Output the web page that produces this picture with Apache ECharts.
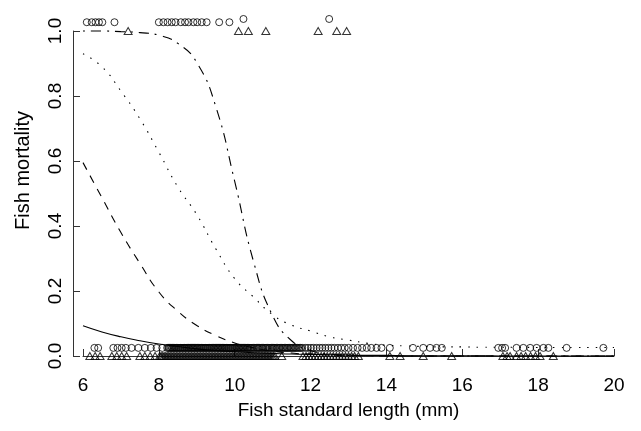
<!DOCTYPE html>
<html>
<head>
<meta charset="utf-8">
<script src="https://cdn.jsdelivr.net/npm/echarts@6/dist/echarts.min.js"></script>
<style>
html, body { margin: 0; padding: 0; background: #fff; }
#chart { width: 641px; height: 431px; }
</style>
</head>
<body>
<div id="chart"></div>
<script>
// fitted curves, read at every 0.5 mm
var lenX = [6, 6.5, 7, 7.5, 8, 8.5, 9, 9.5, 10, 10.5, 11, 11.5, 12, 12.5, 13, 13.5,
	14, 14.5, 15, 15.5, 16, 16.5, 17, 17.5, 18, 18.5, 19, 19.5, 20];
var solidP = [0.093, 0.074, 0.059, 0.047, 0.037, 0.029, 0.022, 0.017, 0.013, 0.010, 0.008, 0.006, 0.005, 0.004, 0.003, 0.002,
	0.002, 0.001, 0.001, 0.001, 0.001, 0.001, 0, 0, 0, 0, 0, 0, 0];
var dashedP = [0.595, 0.487, 0.38, 0.285, 0.197, 0.138, 0.094, 0.063, 0.040, 0.025, 0.015, 0.009, 0.005, 0.003, 0.002, 0.001,
	0.001, 0, 0, 0, 0, 0, 0, 0, 0, 0, 0, 0, 0];
var dottedP = [0.93, 0.89, 0.815, 0.73, 0.627, 0.52, 0.435, 0.33, 0.238, 0.181, 0.127, 0.095, 0.077, 0.059, 0.049, 0.039,
	0.033, 0.031, 0.029, 0.028, 0.028, 0.027, 0.027, 0.027, 0.026, 0.026, 0.026, 0.026, 0.026];
var dotdashP = [1.0, 1.0, 0.998, 0.995, 0.987, 0.962, 0.903, 0.768, 0.537, 0.289, 0.124, 0.047, 0.017, 0.006, 0.002, 0.001,
	0, 0, 0, 0, 0, 0, 0, 0, 0, 0, 0, 0, 0];

// observed fish (circles / triangles), dead at top, alive at bottom
var topCircleX = [6.10, 6.23, 6.33, 6.42, 6.51, 6.83, 8.00, 8.12, 8.23, 8.34, 8.44, 8.58, 8.69, 8.78, 8.91, 9.01,
	9.13, 9.26, 9.59, 9.86];
var topCircleHighX = [10.23, 12.49];
var topTriX = [7.19, 10.10, 10.36, 10.82, 12.20, 12.69, 12.95];
var botCircleX = [6.30, 6.40, 6.80, 6.91, 7.02, 7.13, 7.28, 7.46, 7.63, 7.79, 7.94, 8.09,
	8.22, 8.25, 8.28, 8.31, 8.34, 8.36, 8.39, 8.42, 8.45, 8.47, 8.50, 8.53, 8.56, 8.58, 8.61, 8.64,
	8.67, 8.69, 8.72, 8.75, 8.78, 8.80, 8.83, 8.86, 8.89, 8.91, 8.94, 8.97, 9.00, 9.02, 9.05, 9.08,
	9.11, 9.13, 9.16, 9.19, 9.22, 9.24, 9.27, 9.30, 9.33, 9.35, 9.38, 9.41, 9.44, 9.46, 9.49, 9.52,
	9.55, 9.57, 9.60, 9.63, 9.66, 9.68, 9.71, 9.74, 9.77, 9.79, 9.82, 9.85, 9.88, 9.90, 9.93, 9.96,
	9.99, 10.01, 10.04, 10.07, 10.10, 10.12, 10.15, 10.18, 10.21, 10.23, 10.26, 10.29, 10.32, 10.34,
	10.37, 10.40, 10.43, 10.46, 10.50, 10.53, 10.57, 10.60, 10.63, 10.66, 10.70, 10.73, 10.76, 10.80,
	10.83, 10.86, 10.90, 10.93, 10.97, 11.00, 11.03, 11.06, 11.10, 11.13, 11.17, 11.20, 11.24, 11.27,
	11.31, 11.34, 11.38, 11.41, 11.45, 11.48, 11.52, 11.55, 11.59, 11.62, 11.66, 11.70, 11.74, 11.78,
	11.86, 11.93, 12.01, 12.08, 12.16, 12.24, 12.31, 12.39, 12.47, 12.55, 12.63, 12.72, 12.81, 12.90,
	13.00, 13.12, 13.24, 13.36, 13.48, 13.60, 13.74, 13.87, 14.09, 14.70, 14.97, 15.15, 15.32, 15.46,
	16.95, 17.05, 17.13, 17.43, 17.61, 17.79, 17.96, 18.14, 18.27, 18.75, 19.72];
var botTriX = [6.18, 6.32, 6.45, 6.76, 6.89, 7.02, 7.15, 7.50, 7.63, 7.77, 7.90,
	8.02, 8.06, 8.10, 8.14, 8.18, 8.22, 8.26, 8.30, 8.34, 8.38, 8.42, 8.46, 8.50, 8.54, 8.58, 8.62,
	8.66, 8.70, 8.74, 8.78, 8.82, 8.86, 8.90, 8.94, 8.98, 9.02, 9.06, 9.10, 9.14, 9.18, 9.22, 9.26,
	9.30, 9.34, 9.38, 9.42, 9.46, 9.50, 9.54, 9.58, 9.62, 9.66, 9.70, 9.74, 9.78, 9.82, 9.86, 9.90,
	9.94, 9.98, 10.02, 10.06, 10.10, 10.14, 10.18, 10.22, 10.26, 10.30, 10.34, 10.38, 10.42, 10.46,
	10.50, 10.54, 10.58, 10.62, 10.66, 10.70, 10.74, 10.78, 10.82, 10.86, 10.90, 10.94, 10.98, 11.02,
	11.06, 11.24,
	11.80, 11.88, 11.96, 12.04, 12.12, 12.20, 12.28, 12.36, 12.44, 12.52, 12.60, 12.68, 12.76, 12.84,
	12.92, 13.00, 13.08, 13.16, 13.26, 14.09, 14.36, 14.97, 15.72,
	17.07, 17.18, 17.26, 17.43, 17.55, 17.67, 17.80, 17.93, 18.05, 18.40];
var circleTopY = 1.027, circleTopHighY = 1.037, circleBotY = 0.025, triTopY = 1.0, triBotY = 0.0;

var xTicks = [6, 8, 10, 12, 14, 16, 18, 20];
var yTicks = [0, 0.2, 0.4, 0.6, 0.8, 1.0];

function pairs(xs, ys) {
	var out = [];
	for (var i = 0; i < xs.length; i++) out.push([xs[i], ys[i]]);
	return out;
}
function atLevel(xs, y) {
	var out = [];
	for (var i = 0; i < xs.length; i++) out.push([xs[i], y]);
	return out;
}

var font = 'Liberation Sans, Arial, Helvetica, sans-serif';
var myChart = echarts.init(document.getElementById('chart'), null, { renderer: 'canvas' });

function curve(ys, type) {
	return {
		type: 'line',
		data: pairs(lenX, ys),
		showSymbol: false,
		smooth: 0.5,
		clip: false,
		lineStyle: { color: '#000', width: 1.1, type: type },
		z: 3
	};
}
function points(data, symbol, size) {
	return {
		type: 'scatter',
		data: data,
		symbol: symbol,
		symbolSize: size,
		clip: false,
		itemStyle: { color: 'rgba(0,0,0,0)', borderColor: '#000', borderWidth: 1 },
		z: 2
	};
}

var option = {
	animation: false,
	backgroundColor: '#fff',
	grid: { left: 83, right: 27, top: 31, bottom: 75 },
	xAxis: {
		type: 'value',
		min: 6, max: 20, interval: 2,
		offset: 14,
		name: 'Fish standard length (mm)',
		nameLocation: 'middle',
		nameGap: 31,
		nameTextStyle: { color: '#000', fontSize: 19, fontFamily: font },
		axisLine: { show: true, lineStyle: { color: '#333', width: 1 } },
		axisTick: { show: true, inside: true, length: 7, lineStyle: { color: '#333' } },
		axisLabel: { color: '#000', fontSize: 19, fontFamily: font, margin: 6,
			customValues: xTicks },
		splitLine: { show: false }
	},
	yAxis: {
		type: 'value',
		min: 0, max: 1, interval: 0.2,
		offset: 10,
		name: 'Fish mortality',
		nameLocation: 'middle',
		nameGap: 40,
		nameTextStyle: { color: '#000', fontSize: 20, fontFamily: font, padding: [0, 0, 0, 46] },
		axisLine: { show: true, lineStyle: { color: '#333', width: 1 } },
		axisTick: { show: true, inside: true, length: 7, lineStyle: { color: '#333' } },
		axisLabel: { color: '#000', fontSize: 19, fontFamily: font, margin: 8, rotate: 90,
			customValues: yTicks,
			formatter: function (v) { return v.toFixed(1); } },
		splitLine: { show: false }
	},
	series: [
		curve(solidP, 'solid'),
		curve(dashedP, [8, 7]),
		curve(dottedP, [1.5, 7]),
		curve(dotdashP, [2, 6, 10, 6]),
		points(atLevel(topCircleX, circleTopY), 'circle', 7),
		points(atLevel(topCircleHighX, circleTopHighY), 'circle', 7),
		points(atLevel(botCircleX, circleBotY), 'circle', 7),
		points(atLevel(topTriX, triTopY), 'triangle', [8, 7]),
		points(atLevel(botTriX, triBotY), 'triangle', [8, 7])
	]
};
myChart.setOption(option);
</script>
</body>
</html>
